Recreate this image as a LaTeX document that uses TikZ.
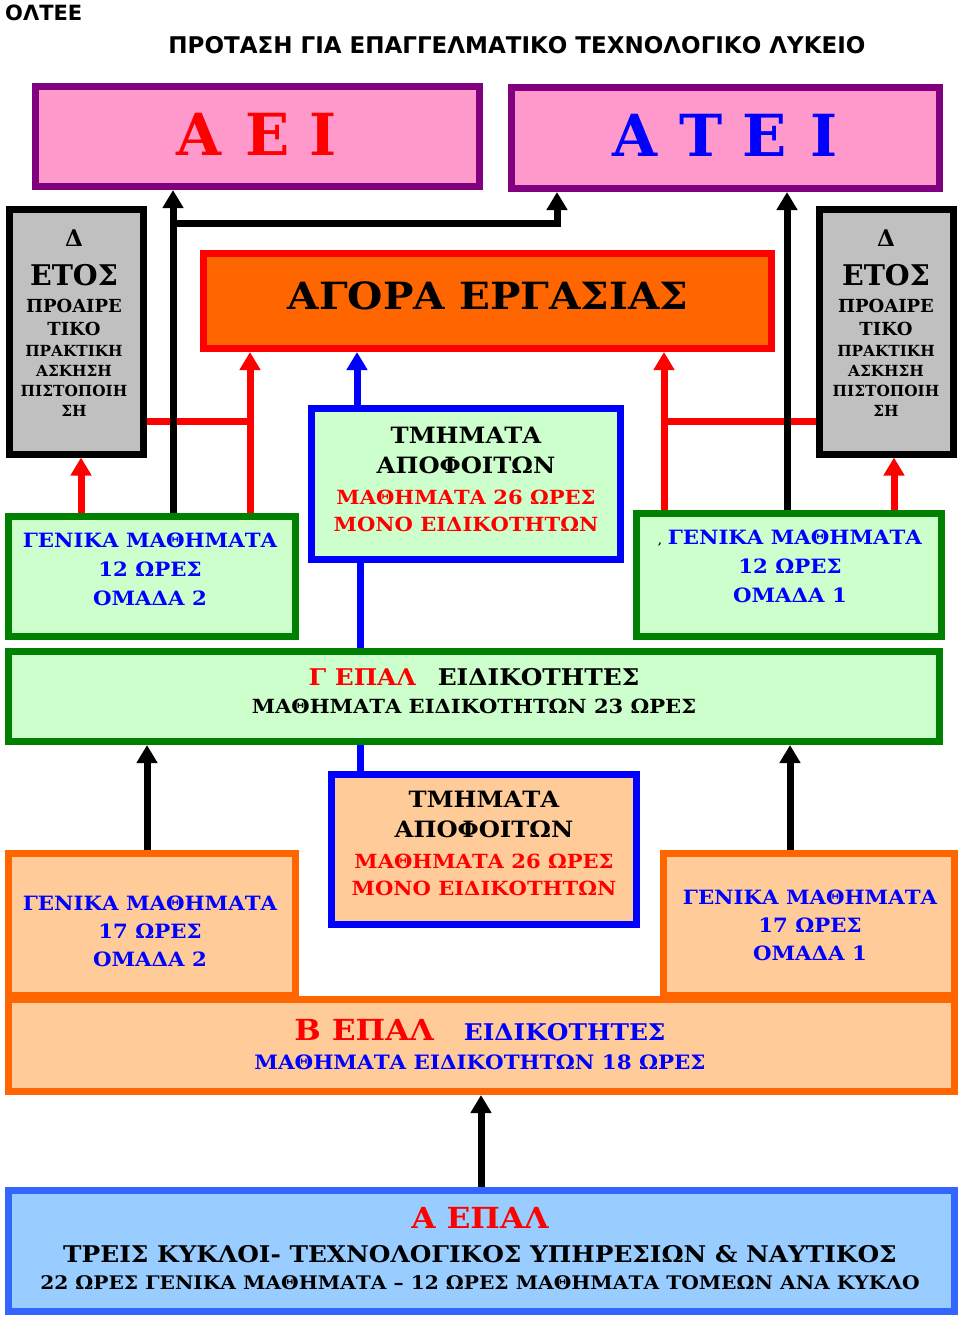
\documentclass[tikz,border=0pt]{standalone}
\usepackage{fontspec}
\setmainfont{DejaVu Serif}[FakeStretch=1.08]
\newfontfamily\plainserif{DejaVu Serif}
\newfontfamily\headfont{DejaVu Sans}
\usetikzlibrary{arrows.meta, positioning}
\definecolor{unipink}{HTML}{FF99CC}
\definecolor{unipurple}{HTML}{800080}
\definecolor{marketorange}{HTML}{FF6600}
\definecolor{lightgreen}{HTML}{CCFFCC}
\definecolor{darkgreen}{HTML}{008000}
\definecolor{yeargray}{HTML}{C0C0C0}
\definecolor{peach}{HTML}{FFCC99}
\definecolor{skyblue}{HTML}{99CCFF}
\definecolor{epalblue}{HTML}{3366FF}
\newcommand{\fsz}[1]{\fontsize{#1}{#1}\selectfont}

\begin{document}
\begin{tikzpicture}[
    x=1pt, y=-1pt,
    box/.style={rectangle, draw=#1, line width=7pt, inner sep=0pt},
    txt/.style={inner sep=0pt, align=center, anchor=north},
    link/.style={line width=7pt, draw=#1},
    link/.default=black,
    arrow/.style={link=#1, -{Triangle[length=18pt, width=20pt]}},
    arrow/.default=black
]
\useasboundingbox (0,0) rectangle (960,1318);

% Header
\node[txt, anchor=north west, font=\headfont\bfseries\fsz{21}] (oltee) at (5,5) {ΟΛΤΕΕ};
\node[txt, font=\headfont\bfseries\fsz{23}] (title) at (517,36)
  {ΠΡΟΤΑΣΗ ΓΙΑ ΕΠΑΓΓΕΛΜΑΤΙΚΟ ΤΕΧΝΟΛΟΓΙΚΟ ΛΥΚΕΙΟ};

% Universities
\node[box=unipurple, fill=unipink, minimum width=444pt, minimum height=100pt] (aei) at (257.5,136.5) {};
\node[box=unipurple, fill=unipink, minimum width=428pt, minimum height=101pt] (atei) at (725.5,138) {};
\node[txt, anchor=center, text=red, font=\plainserif\bfseries\fsz{58}] (aei-t) at (257,134)
  {Α\hspace{24pt}Ε\hspace{20pt}Ι};
\node[txt, anchor=center, text=blue, font=\plainserif\bfseries\fsz{58}] (atei-t) at (725,135)
  {Α\hspace{22pt}Τ\hspace{20pt}Ε\hspace{24pt}Ι};

% D year boxes
\node[box=black, fill=yeargray, minimum width=134pt, minimum height=245pt] (yearL) at (76,331.5) {};
\node[box=black, fill=yeargray, minimum width=134pt, minimum height=245pt] (yearR) at (886,331.5) {};
\node[txt, font=\plainserif\bfseries\fontsize{15.3}{20}\selectfont] (yearL-t) at (74,230)
  {{\fsz{23}Δ}\\[16pt]{\fsz{28.5}ΕΤΟΣ}\\[7pt]{\fsz{18}ΠΡΟΑΙΡΕ}\\[3pt]{\fsz{18}ΤΙΚΟ}\\[1pt]ΠΡΑΚΤΙΚΗ\\ΑΣΚΗΣΗ\\ΠΙΣΤΟΠΟΙΗ\\ΣΗ};
\node[txt, font=\plainserif\bfseries\fontsize{15.3}{20}\selectfont] (yearR-t) at (886,230)
  {{\fsz{23}Δ}\\[16pt]{\fsz{28.5}ΕΤΟΣ}\\[7pt]{\fsz{18}ΠΡΟΑΙΡΕ}\\[3pt]{\fsz{18}ΤΙΚΟ}\\[1pt]ΠΡΑΚΤΙΚΗ\\ΑΣΚΗΣΗ\\ΠΙΣΤΟΠΟΙΗ\\ΣΗ};

% Labour market
\node[box=red, fill=marketorange, minimum width=568pt, minimum height=95pt] (market) at (487.5,301) {};
\node[txt, anchor=center, font=\bfseries\fsz{37.5}] (market-t) at (488,296) {ΑΓΟΡΑ ΕΡΓΑΣΙΑΣ};

% Gamma EPAL level
\node[box=blue, fill=lightgreen, minimum width=309pt, minimum height=151pt] (midU) at (466,484) {};
\node[box=darkgreen, fill=lightgreen, minimum width=287pt, minimum height=120pt] (genL12) at (152,576.5) {};
\node[box=darkgreen, fill=lightgreen, minimum width=305pt, minimum height=123pt] (genR12) at (789,575) {};
\node[box=darkgreen, fill=lightgreen, minimum width=931pt, minimum height=90pt] (gepal) at (474,696.5) {};

\node[txt, font=\bfseries\fontsize{19.5}{27}\selectfont] (midU-t) at (466,427)
  {{\fsz{22.5}ΤΜΗΜΑΤΑ}\\[3pt]{\fsz{22.5}ΑΠΟΦΟΙΤΩΝ}\\[4pt]\textcolor{red}{ΜΑΘΗΜΑΤΑ 26 ΩΡΕΣ}\\\textcolor{red}{ΜΟΝΟ ΕΙΔΙΚΟΤΗΤΩΝ}};
\node[txt, text=blue, font=\bfseries\fontsize{19.7}{29}\selectfont] (genL12-t) at (150,533)
  {ΓΕΝΙΚΑ ΜΑΘΗΜΑΤΑ\\12 ΩΡΕΣ\\ΟΜΑΔΑ 2};
\node[txt, text=blue, font=\bfseries\fontsize{19.7}{29}\selectfont] (genR12-t) at (790,530)
  {{\color{black}\fsz{10},}\hspace{6pt}ΓΕΝΙΚΑ ΜΑΘΗΜΑΤΑ\\12 ΩΡΕΣ\\ΟΜΑΔΑ 1};
\node[txt, font=\bfseries\fontsize{19.5}{28}\selectfont] (gepal-t) at (474,668)
  {{\fsz{23}\textcolor{red}{Γ ΕΠΑΛ}\hspace{22pt}ΕΙΔΙΚΟΤΗΤΕΣ}\\ΜΑΘΗΜΑΤΑ ΕΙΔΙΚΟΤΗΤΩΝ 23 ΩΡΕΣ};

% Beta EPAL level
\node[box=blue, fill=peach, minimum width=305pt, minimum height=150pt] (midL) at (484,849.5) {};
\node[box=marketorange, fill=peach, minimum width=946pt, minimum height=92pt] (bepal) at (481.5,1045.5) {};
\node[box=marketorange, fill=peach, minimum width=287pt, minimum height=142pt] (genL17) at (152,924.5) {};
\node[box=marketorange, fill=peach, minimum width=291pt, minimum height=142pt] (genR17) at (809,924.5) {};

\node[txt, font=\bfseries\fontsize{19.5}{27}\selectfont] (midL-t) at (484,791)
  {{\fsz{22.5}ΤΜΗΜΑΤΑ}\\[3pt]{\fsz{22.5}ΑΠΟΦΟΙΤΩΝ}\\[4pt]\textcolor{red}{ΜΑΘΗΜΑΤΑ 26 ΩΡΕΣ}\\\textcolor{red}{ΜΟΝΟ ΕΙΔΙΚΟΤΗΤΩΝ}};
\node[txt, text=blue, font=\bfseries\fontsize{19.7}{28}\selectfont] (genL17-t) at (150,896)
  {ΓΕΝΙΚΑ ΜΑΘΗΜΑΤΑ\\17 ΩΡΕΣ\\ΟΜΑΔΑ 2};
\node[txt, text=blue, font=\bfseries\fontsize{19.7}{28}\selectfont] (genR17-t) at (810,890)
  {ΓΕΝΙΚΑ ΜΑΘΗΜΑΤΑ\\17 ΩΡΕΣ\\ΟΜΑΔΑ 1};
\node[txt, text=blue, font=\bfseries\fontsize{19.8}{29}\selectfont] (bepal-t) at (480,1019)
  {{\fsz{29}\textcolor{red}{Β ΕΠΑΛ}}\hspace{30pt}{\fsz{23}ΕΙΔΙΚΟΤΗΤΕΣ}\\ΜΑΘΗΜΑΤΑ ΕΙΔΙΚΟΤΗΤΩΝ 18 ΩΡΕΣ};

% Alpha EPAL
\node[box=epalblue, fill=skyblue, minimum width=946pt, minimum height=121pt] (aepal) at (481.5,1251) {};
\node[txt, font=\bfseries\fontsize{18.7}{27}\selectfont] (aepal-t) at (480,1207)
  {{\fsz{29}\textcolor{red}{Α ΕΠΑΛ}}\\[7pt]{\fsz{23}ΤΡΕΙΣ ΚΥΚΛΟΙ- ΤΕΧΝΟΛΟΓΙΚΟΣ ΥΠΗΡΕΣΙΩΝ \& ΝΑΥΤΙΚΟΣ}\\
   22 ΩΡΕΣ ΓΕΝΙΚΑ ΜΑΘΗΜΑΤΑ – 12 ΩΡΕΣ ΜΑΘΗΜΑΤΑ ΤΟΜΕΩΝ ΑΝΑ ΚΥΚΛΟ};

% Red links
\coordinate (redL) at (81,0);
\coordinate (redR) at (894,0);
\coordinate (jL) at (250,421);
\coordinate (jR) at (664,421);
\draw[arrow=red] (redL |- genL12.north) -- (redL |- yearL.south);
\draw[arrow=red] (redR |- genR12.north) -- (redR |- yearR.south);
\draw[arrow=red] (jL |- genL12.north) -- (jL |- market.south);
\draw[arrow=red] (jR |- genR12.north) -- (jR |- market.south);
\draw[link=red] (yearL.east |- jL) -- (jL);
\draw[link=red] (jR) -- (yearR.west |- jR);

% Blue links
\coordinate (bluA) at (357,0);
\coordinate (bluB) at (360,0);
\draw[arrow=blue] (bluA |- midU.north) -- (bluA |- market.south);
\draw[link=blue] (bluB |- midU.south) -- (bluB |- gepal.north);
\draw[link=blue] (bluB |- gepal.south) -- (bluB |- midL.north);

% Black links
\coordinate (split) at (173,223);
\coordinate (blkR) at (787,0);
\coordinate (blkL2) at (147,0);
\coordinate (blkR2) at (790,0);
\coordinate (blkC) at (481,0);
\draw[arrow] (split |- genL12.north) -- (split |- aei.south);
\draw[arrow] (split) -| ([xshift=49pt]atei.south west);
\draw[arrow] (blkR |- genR12.north) -- (blkR |- atei.south);
\draw[arrow] (blkL2 |- genL17.north) -- (blkL2 |- gepal.south);
\draw[arrow] (blkR2 |- genR17.north) -- (blkR2 |- gepal.south);
\draw[arrow] (blkC |- aepal.north) -- (blkC |- bepal.south);

\end{tikzpicture}
\end{document}
